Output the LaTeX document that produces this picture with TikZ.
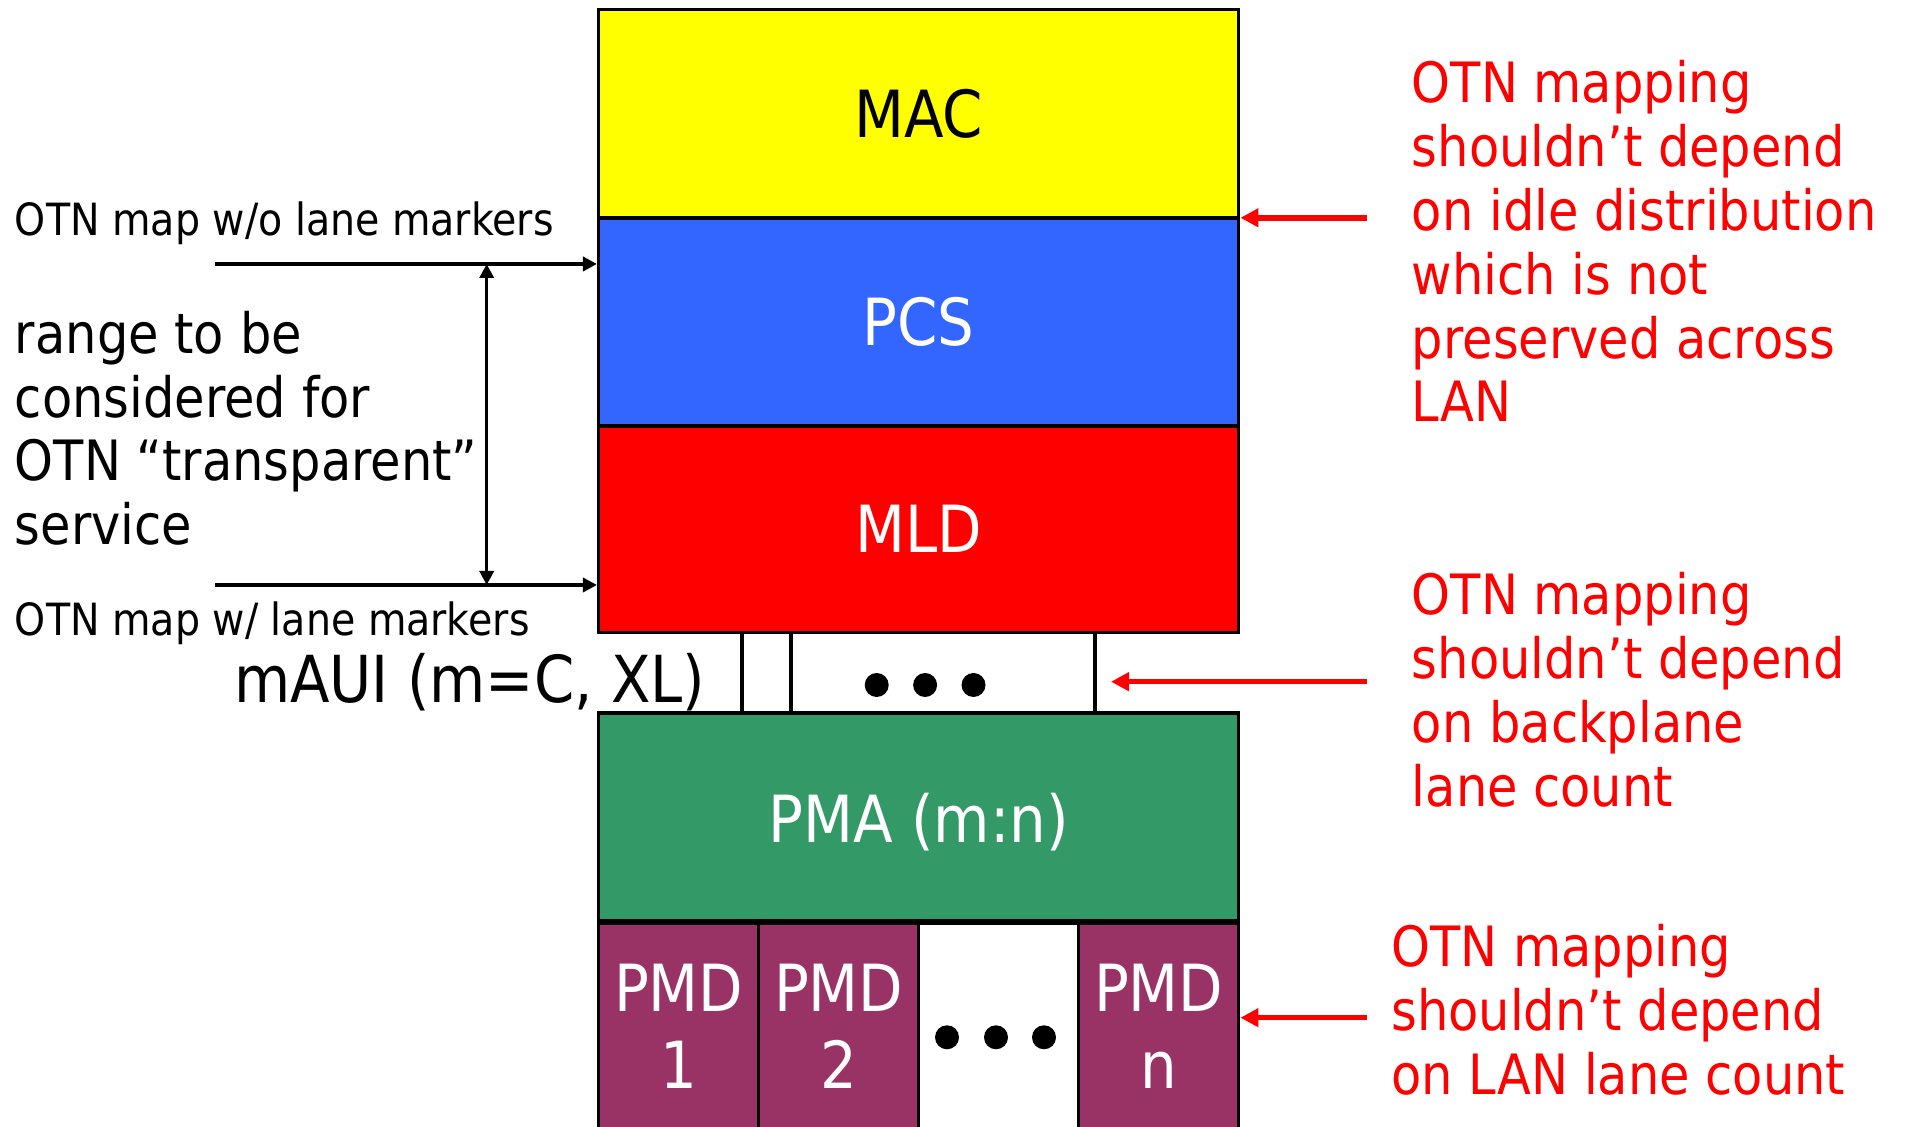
\documentclass[tikz,border=0pt]{standalone}
\usepackage{fontspec}
\setmainfont{DejaVu Sans}[FakeStretch=0.89]
\usetikzlibrary{arrows.meta}
\definecolor{macY}{HTML}{FFFF00}
\definecolor{pcsB}{HTML}{3366FF}
\definecolor{mldR}{HTML}{FF0000}
\definecolor{pmaG}{HTML}{339966}
\definecolor{pmdP}{HTML}{993366}
\definecolor{noteR}{HTML}{FF0000}
\begin{document}
\begin{tikzpicture}[x=0.5pt,y=-0.5pt,
  layer/.style={draw=black, line width=1.75pt, minimum width=320pt, minimum height=104pt,
    inner sep=0pt, font=\fontsize{32.5}{38}\selectfont, text=white},
  pmdbox/.style={draw=black, line width=1.75pt, minimum width=80pt, minimum height=110pt,
    anchor=north, inner sep=0pt},
  boxlbl/.style={anchor=base, inner sep=0pt, font=\fontsize{32.5}{38}\selectfont, text=white},
  smalltxt/.style={anchor=base west, inner sep=0pt, font=\fontsize{22.2}{26}\selectfont},
  bigtxt/.style={anchor=base west, inner sep=0pt, font=\fontsize{27.8}{34}\selectfont},
  redtxt/.style={bigtxt, text=noteR},
  blackarrow/.style={line width=1.75pt, -{Triangle[length=7pt,width=7pt]}},
  dblarrow/.style={line width=1.75pt, {Triangle[length=7pt,width=7pt]}-{Triangle[length=7pt,width=7pt]}},
  redarrow/.style={draw=noteR, line width=2.8pt, -{Triangle[length=9pt,width=9pt]}},
  sepline/.style={line width=1.75pt},
  dot/.style={fill=black}
]
\useasboundingbox (0,0) rectangle (1908,1127);
\clip (0,0) rectangle (1908,1127);

% layer stack
\node[layer, fill=macY, text=black] (MAC) at (918.7,113.75) {MAC};
\node[layer, fill=pcsB] (PCS) at (918.7,321.85) {PCS};
\node[layer, fill=mldR, minimum height=103.4pt] (MLD) at (918.7,529.3) {MLD};
\node[layer, fill=pmaG] (PMA) at (918.7,817) {};
\node[boxlbl] (PMAl) at (918.7,843) {PMA (m:n)};

% mAUI lanes
\coordinate (la) at (742.2,0);
\coordinate (lb) at (790.9,0);
\coordinate (lc) at (1095.1,0);
\draw[sepline] (MLD.south -| la) -- (PMA.north -| la);
\draw[sepline] (MLD.south -| lb) -- (PMA.north -| lb);
\draw[sepline] (MLD.south -| lc) -- (PMA.north -| lc);
\fill[dot] (876.7,685) circle (6pt);
\fill[dot] (925.1,685) circle (6pt);
\fill[dot] (973.5,685) circle (6pt);
\node[anchor=base west, inner sep=0pt, font=\fontsize{32.4}{38}\selectfont] (maui) at (233.6,703) {mAUI (m=C, XL)};

% PMD row
\node[pmdbox, fill=pmdP] (PMD1) at (678.7,921.1) {};
\node[pmdbox, fill=pmdP] (PMD2) at (838.7,921.1) {};
\node[pmdbox, fill=white] (PMDg) at (998.7,921.1) {};
\node[pmdbox, fill=pmdP] (PMDn) at (1158.7,921.1) {};
\node[boxlbl] (p1a) at (678.7,1012) {PMD};
\node[boxlbl] (p1b) at (678.7,1089) {1};
\node[boxlbl] (p2a) at (838.7,1012) {PMD};
\node[boxlbl] (p2b) at (838.7,1089) {2};
\node[boxlbl] (pna) at (1158.7,1012) {PMD};
\node[boxlbl] (pnb) at (1158.7,1089) {n};
\fill[dot] (947,1037.3) circle (6pt);
\fill[dot] (996,1037.3) circle (6pt);
\fill[dot] (1044,1037.3) circle (6pt);

% left annotations
\node[smalltxt] (wo) at (14.6,236) {OTN map w/o lane markers};
\node[smalltxt] (wl) at (14.6,636) {OTN map w/ lane markers};
\node[bigtxt] (rg1) at (14.6,354) {range to be};
\node[bigtxt] (rg2) at (14.6,417.5) {considered for};
\node[bigtxt] (rg3) at (14.6,481) {OTN “transparent”};
\node[bigtxt] (rg4) at (14.6,544.5) {service};

\coordinate (aT) at (215.4,264);
\coordinate (aB) at (215.4,585);
\coordinate (dT) at (486.7,264);
\coordinate (dB) at (486.7,585);
\draw[blackarrow] (aT) -- (aT -| PCS.west);
\draw[blackarrow] (aB) -- (aB -| MLD.west);
\draw[dblarrow] (dT) -- (dB);

% right annotations
\foreach \t [count=\i] in {OTN mapping, shouldn’t depend, on idle distribution, which is not, preserved across, LAN}
  \node[redtxt] (na\i) at (1411.5,{103+63.8*(\i-1)}) {\t};
\foreach \t [count=\i] in {OTN mapping, shouldn’t depend, on backplane, lane count}
  \node[redtxt] (nb\i) at (1411.5,{615+63.8*(\i-1)}) {\t};
\foreach \t [count=\i] in {OTN mapping, shouldn’t depend, on LAN lane count}
  \node[redtxt] (nc\i) at (1391,{966.5+64*(\i-1)}) {\t};

\coordinate (ra) at (1366.5,217.8);
\coordinate (rb) at (1366.5,681.7);
\coordinate (rbt) at (1111,681.7);
\coordinate (rc) at (1366.5,1017.7);
\draw[redarrow] (ra) -- (ra -| PCS.east);
\draw[redarrow] (rb) -- (rbt);
\draw[redarrow] (rc) -- (rc -| PMDn.east);
\end{tikzpicture}
\end{document}
